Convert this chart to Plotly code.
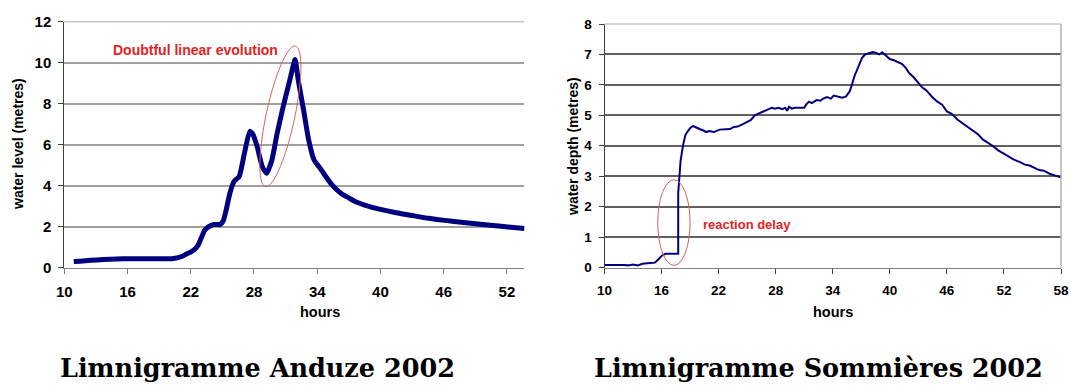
import numpy as np
import plotly.graph_objects as go

# --- data ---
anduze_hours = [10.9, 11.5, 12.5, 13.7, 15.0, 16.0, 18.0, 20.2, 20.8, 21.2,
                21.6, 22.0, 22.4, 22.7, 23.0, 23.3, 23.7, 24.2, 24.8, 25.1,
                25.4, 25.7, 26.1, 26.6, 27.1, 27.6, 27.9, 28.3, 28.8, 29.2,
                29.7, 30.2, 30.7, 31.4, 31.9, 32.2, 32.7, 33.2, 33.7, 34.2,
                34.6, 35.3, 36.3, 37.0, 37.6, 38.5, 39.9, 41.5, 43.2, 44.6,
                46.1, 47.9, 49.7, 51.7, 53.7]
anduze_level = [0.29, 0.31, 0.35, 0.39, 0.42, 0.43, 0.43, 0.43, 0.48, 0.55,
                0.66, 0.75, 0.90, 1.10, 1.45, 1.80, 2.00, 2.10, 2.10, 2.30,
                2.90, 3.60, 4.20, 4.45, 5.60, 6.65, 6.50, 5.90, 4.90, 4.60,
                5.25, 6.55, 7.70, 9.15, 10.15, 9.15, 7.70, 6.20, 5.25, 4.90,
                4.60, 4.10, 3.60, 3.40, 3.22, 3.05, 2.85, 2.67, 2.52, 2.40,
                2.30, 2.20, 2.10, 2.00, 1.90]

sommieres_hours = [10.0, 10.5, 11.0, 11.5, 12.0, 12.5, 13.0, 13.5, 14.0, 14.5,
                   15.0, 15.3, 15.7, 16.0, 16.4, 17.75, 17.75, 17.85, 18.0, 18.25,
                   18.5, 18.7, 19.0, 19.3, 19.6, 20.0, 20.4, 20.7, 21.0, 21.5,
                   22.1, 22.6, 23.2, 23.6, 24.0, 24.5, 25.0, 25.4, 25.8, 26.2,
                   26.5, 26.9, 27.2, 27.6, 27.9, 28.3, 28.7, 29.0, 29.2, 29.4,
                   29.7, 30.0, 30.5, 31.0, 31.2, 31.5, 31.8, 32.3, 32.7, 33.0,
                   33.4, 33.8, 34.1, 34.5, 35.0, 35.4, 35.8, 36.3, 36.8, 37.1,
                   37.4, 37.8, 38.2, 38.5, 38.9, 39.2, 39.5, 40.0, 40.5, 41.0,
                   41.3, 41.7, 42.0, 42.5, 43.0, 43.4, 43.9, 44.4, 45.0, 45.5,
                   46.0, 46.5, 47.1, 47.6, 48.2, 48.7, 49.3, 49.8, 50.3, 50.8,
                   51.4, 52.0, 52.5, 53.0, 53.7, 54.2, 54.7, 55.3, 55.7, 56.2,
                   56.8, 57.4, 58.0]
sommieres_depth = [0.08, 0.08, 0.10, 0.08, 0.08, 0.07, 0.10, 0.07, 0.12, 0.14,
                   0.15, 0.16, 0.28, 0.38, 0.45, 0.45, 2.45, 2.90, 3.50, 4.00,
                   4.35, 4.45, 4.58, 4.65, 4.60, 4.55, 4.50, 4.45, 4.48, 4.45,
                   4.53, 4.55, 4.55, 4.62, 4.63, 4.70, 4.78, 4.85, 5.00, 5.05,
                   5.10, 5.15, 5.20, 5.25, 5.22, 5.25, 5.20, 5.25, 5.15, 5.28,
                   5.22, 5.25, 5.25, 5.25, 5.35, 5.45, 5.40, 5.50, 5.48, 5.55,
                   5.60, 5.55, 5.65, 5.62, 5.58, 5.62, 5.80, 6.30, 6.70, 6.90,
                   7.00, 7.05, 7.08, 7.06, 7.00, 7.07, 6.98, 6.85, 6.80, 6.72,
                   6.68, 6.55, 6.40, 6.25, 6.05, 5.92, 5.80, 5.62, 5.45, 5.35,
                   5.13, 5.05, 4.86, 4.75, 4.59, 4.50, 4.37, 4.20, 4.10, 4.00,
                   3.85, 3.73, 3.65, 3.55, 3.46, 3.38, 3.35, 3.25, 3.20, 3.18,
                   3.08, 3.02, 2.96]

hour_ticks_left = [10, 16, 22, 28, 34, 40, 46, 52]
hour_ticks_right = [10, 16, 22, 28, 34, 40, 46, 52, 58]

W, H = 1071, 385
NAVY = "#00007f"
RED = "#e02424"
ELL = "#d86060"

# plot areas in pixels
L_x0, L_x1, L_top, L_bot = 64.3, 524.3, 21.7, 267.5
R_x0, R_x1, R_top, R_bot = 604.5, 1061.0, 24.0, 267.5
L_range = [10, 53.65]
R_range = [10, 58]

fig = go.Figure()

fig.add_trace(go.Scatter(x=anduze_hours, y=anduze_level, mode="lines",
                         line=dict(color=NAVY, width=5, shape="spline", smoothing=0.5),
                         xaxis="x", yaxis="y", showlegend=False))
fig.add_trace(go.Scatter(x=sommieres_hours, y=sommieres_depth, mode="lines",
                         line=dict(color=NAVY, width=2),
                         xaxis="x2", yaxis="y2", showlegend=False))

# tilted ellipse around the Anduze rise, built in pixel space
kx = (L_x1 - L_x0) / (L_range[1] - L_range[0])
ky = (L_bot - L_top) / 12
top_pt = np.array([31.93 * kx, -10.81 * ky])
bot_pt = np.array([29.08 * kx, -3.95 * ky])
c = (top_pt + bot_pt) / 2
u = (top_pt - bot_pt) / np.linalg.norm(top_pt - bot_pt)
n = np.array([-u[1], u[0]])
a, b = np.linalg.norm(top_pt - bot_pt) / 2, 14.3
t = np.linspace(0, 2 * np.pi, 80)
pts = c[None, :] + a * np.cos(t)[:, None] * u + b * np.sin(t)[:, None] * n
ex, ey = pts[:, 0] / kx, -pts[:, 1] / ky
path = "M " + " L ".join(f"{x:.3f},{y:.3f}" for x, y in zip(ex, ey)) + " Z"

shapes = [
    dict(type="path", path=path, xref="x", yref="y",
         line=dict(color=ELL, width=1)),
    dict(type="circle", xref="x2", yref="y2", x0=15.6, x1=19.0, y0=0.07, y1=2.88,
         line=dict(color=ELL, width=1)),
    # light frame lines
    dict(type="line", xref="x domain", yref="y domain", x0=0, x1=1, y0=1, y1=1,
         line=dict(color="#c8c8c8", width=1.5)),
    dict(type="line", xref="x2 domain", yref="y2 domain", x0=0, x1=1, y0=1, y1=1,
         line=dict(color="#c8c8c8", width=1.5)),
    dict(type="line", xref="x2 domain", yref="y2 domain", x0=1, x1=1, y0=0, y1=1,
         line=dict(color="#b0b0b0", width=1.5)),
]


def px(x):
    return x / W


def py(y):
    return 1 - y / H


tick_font = dict(family="Liberation Sans", size=15, color="#000000", weight="bold")
tick_font_r = dict(family="Liberation Sans", size=13.5, color="#000000", weight="bold")
title_font = dict(family="Liberation Sans", size=14, color="#000000", weight="bold")
hours_font = dict(family="Liberation Sans", size=14.5, color="#000000", weight="bold")
red_font = dict(family="Liberation Sans", size=14, color=RED, weight="bold")
red_font2 = dict(family="Liberation Sans", size=13, color=RED, weight="bold")
cap_font = dict(family="DejaVu Serif", size=25.5, color="#000000", weight="bold")


def note(text, x, y, font, angle=0):
    return dict(text=text, x=px(x), y=py(y), xref="paper", yref="paper",
                xanchor="center", yanchor="middle", showarrow=False,
                textangle=angle, font=font)


annotations = [
    note("Doubtful linear evolution", 195, 50, red_font),
    note("reaction delay", 747, 224, red_font2),
    note("hours", 320, 312, hours_font),
    note("hours", 833, 312, hours_font),
    note("water level (metres)", 18, 144, title_font, -90),
    note("water depth (metres)", 573, 147, title_font, -90),
    note("Limnigramme Anduze 2002", 257, 368, cap_font),
    note("Limnigramme Sommières 2002", 818, 368, cap_font),
]

fig.update_layout(
    width=W, height=H,
    margin=dict(l=0, r=0, t=0, b=0, autoexpand=False),
    paper_bgcolor="white", plot_bgcolor="white",
    xaxis=dict(domain=[px(L_x0), px(L_x1)], range=L_range, tickvals=hour_ticks_left,
               showgrid=False, zeroline=False, showline=True, linecolor="#808080",
               ticks="outside", ticklen=5, tickcolor="#808080", tickfont=tick_font,
               ticklabelstandoff=5, anchor="y", automargin=False),
    yaxis=dict(domain=[py(L_bot), py(L_top)], range=[0, 12], dtick=2,
               showgrid=True, gridcolor="#a0a0a0", gridwidth=1.5, zeroline=False,
               showline=True, linecolor="#404040", ticks="outside", ticklen=5,
               tickcolor="#404040", tickfont=tick_font, ticklabelstandoff=4, anchor="x",
               automargin=False),
    xaxis2=dict(domain=[px(R_x0), px(R_x1)], range=R_range, tickvals=hour_ticks_right,
                showgrid=False, zeroline=False, showline=True, linecolor="#808080",
                ticks="outside", ticklen=5, tickcolor="#404040", tickfont=tick_font_r,
                ticklabelstandoff=5, anchor="y2", automargin=False),
    yaxis2=dict(domain=[py(R_bot), py(R_top)], range=[0, 8], dtick=1,
                showgrid=True, gridcolor="#606060", gridwidth=1.5, zeroline=False,
                showline=True, linecolor="#404040", ticks="outside", ticklen=5,
                tickcolor="#404040", tickfont=tick_font_r, ticklabelstandoff=4, anchor="x2",
                automargin=False),
    shapes=shapes,
    annotations=annotations,
)

# the browser's default body margin would shift the figure by 8px
fig.write_html("out.html", config={"displayModeBar": False},
               post_script="document.body.style.margin='0';")
